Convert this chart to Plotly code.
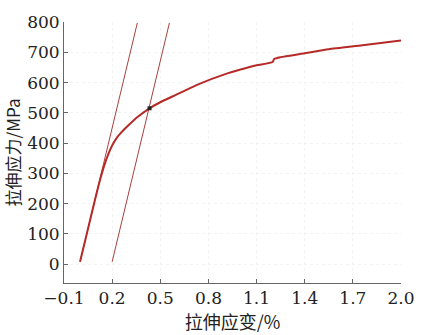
import plotly.graph_objects as go

strain = [0.0, 0.05, 0.10, 0.125, 0.15, 0.175, 0.20, 0.23, 0.26, 0.30, 0.36, 0.433, 0.5, 0.6, 0.74, 0.9, 1.0, 1.1, 1.2, 1.21, 1.25, 1.4, 1.55, 1.76, 2.0]
stress = [8, 118, 228, 280, 325, 362, 392, 418, 437, 458, 487, 515, 535, 560, 595, 627, 643, 657, 668, 678, 684, 697, 710, 723, 739]

line1_x = [0.0, 0.357]
line1_y = [8, 797]
line2_x = [0.2, 0.557]
line2_y = [8, 797]

yield_x = [0.433]
yield_y = [515]

xticks = [-0.1, 0.2, 0.5, 0.8, 1.1, 1.4, 1.7, 2.0]
xticklabels = ["\u22120.1", "0.2", "0.5", "0.8", "1.1", "1.4", "1.7", "2.0"]
yticks = [0, 100, 200, 300, 400, 500, 600, 700, 800]

fig = go.Figure()
fig.add_trace(go.Scatter(x=line1_x, y=line1_y, mode="lines", line=dict(color="#a8403e", width=1)))
fig.add_trace(go.Scatter(x=line2_x, y=line2_y, mode="lines", line=dict(color="#a8403e", width=1)))
fig.add_trace(go.Scatter(x=strain, y=stress, mode="lines", line=dict(color="#b52a27", width=2, shape="spline", smoothing=0.5)))
fig.add_trace(go.Scatter(x=yield_x, y=yield_y, mode="markers", marker=dict(color="#222", size=4, symbol="square")))

font = dict(family="DejaVu Serif", size=17, color="#222")
xtfont = dict(family="Noto Sans CJK SC", size=18, color="#222")
ytfont = dict(family="Noto Sans CJK SC", size=17, color="#222")
fig.update_layout(
    width=427, height=335, margin=dict(l=63, r=21, t=13, b=52),
    paper_bgcolor="white", plot_bgcolor="white", showlegend=False,
    font=font,
)
fig.update_xaxes(range=[-0.1, 2.0], tickvals=xticks, ticktext=xticklabels,
                 showline=True, linecolor="#666", linewidth=1, ticks="inside", ticklen=4, tickcolor="#666",
                 showgrid=True, gridcolor="#f2f2f2", griddash="dot", zeroline=False,
                 title=dict(text="拉伸应变/%", font=xtfont, standoff=0),
                 tickfont=font)
fig.update_yaxes(range=[-62, 800], tickvals=yticks,
                 showline=True, linecolor="#666", linewidth=1, ticks="inside", ticklen=4, tickcolor="#666",
                 showgrid=True, gridcolor="#f2f2f2", griddash="dot", zeroline=False,
                 title=dict(text="拉伸应力/MPa", font=ytfont, standoff=3),
                 tickfont=font)
fig.write_html("out.html")
